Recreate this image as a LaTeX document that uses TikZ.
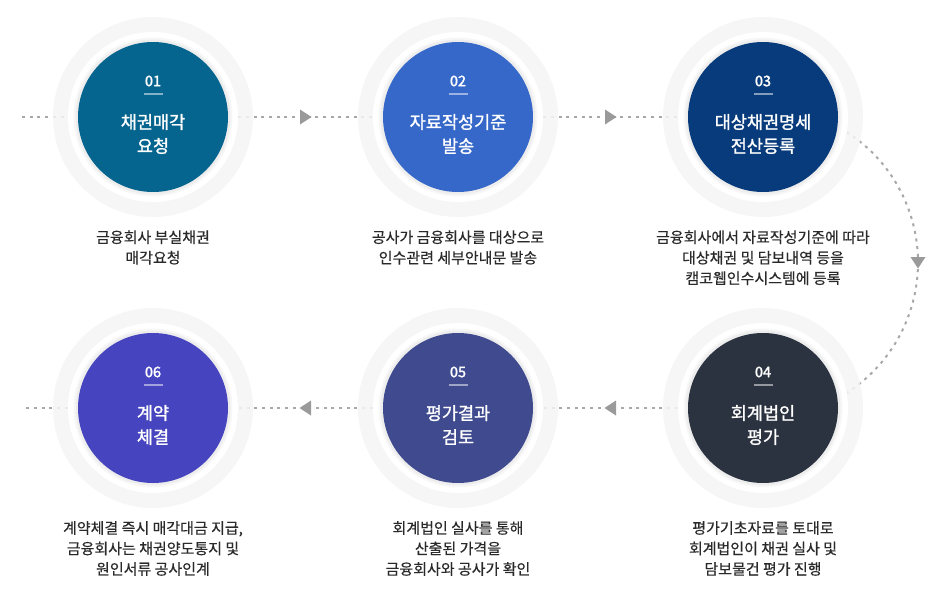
\documentclass[tikz,border=0pt]{standalone}
\usepackage{fontspec}
\setmainfont{Noto Sans CJK KR}
\newfontfamily\krmed[FakeBold=1.3]{Noto Sans CJK KR}
\newfontfamily\krnum[FakeBold=2]{Noto Sans CJK KR}
\newfontfamily\krdesc[FakeBold=0.4]{Noto Sans CJK KR}
\usetikzlibrary{decorations.markings,calc}
\definecolor{colA}{HTML}{06658F}
\definecolor{colB}{HTML}{3568C9}
\definecolor{colC}{HTML}{083B7B}
\definecolor{colD}{HTML}{2C3340}
\definecolor{colE}{HTML}{3F4B8E}
\definecolor{colF}{HTML}{4645BF}
\definecolor{ringgray}{HTML}{F5F5F5}
\definecolor{dotgray}{HTML}{A8A8A8}
\definecolor{arrowgray}{HTML}{9A9A9A}
\definecolor{desctext}{HTML}{2A2A2A}
\pgfdeclarelayer{bg}
\pgfsetlayers{bg,main}
\begin{document}
\begin{tikzpicture}[x=1pt,y=-1pt,
  ring/.style={circle,fill=ringgray,fill opacity=.85,minimum size=200pt,inner sep=0pt},
  wdisk/.style={circle,fill=white,minimum size=170pt,inner sep=0pt},
  disk/.style={circle,fill=#1,minimum size=150pt,inner sep=0pt},
  num/.style={text=white,inner sep=0pt,font=\krnum\fontsize{14.5}{14.5}\selectfont},
  ttl/.style={text=white,inner sep=0pt,align=center,font=\krmed\fontsize{17.5}{24}\selectfont},
  desc/.style={text=desctext,inner sep=0pt,align=center,font=\krdesc\fontsize{15}{20.5}\selectfont},
  uline/.style={draw=white,draw opacity=.5,line width=2pt},
  softshadow/.style={fill=black,fill opacity=#1},
  dots/.style={draw=dotgray,line width=2pt,dash pattern=on 3pt off 4.7pt},
  midarrow/.style={postaction={decorate},decoration={markings,mark=at position 0.5 with {\fill[arrowgray] (-5.5pt,-7.5pt) -- (6pt,0pt) -- (-5.5pt,7.5pt) -- cycle;}}}
]
\useasboundingbox (0,0) rectangle (948,597);

% steps
\foreach \i/\x/\y/\c/\n/\t in {1/153/117/colA/01/{채권매각\\요청},
                               2/458/117/colB/02/{자료작성기준\\발송},
                               3/763/117/colC/03/{대상채권명세\\전산등록},
                               4/763/408/colD/04/{회계법인\\평가},
                               5/458/408/colE/05/{평가결과\\검토},
                               6/153/408/colF/06/{계약\\체결}}{
  \node[ring] (r\i) at (\x,\y) {};
  \node[wdisk] (w\i) at (r\i) {};
  \fill[softshadow=.03] (w\i.center) circle (79.5);
  \fill[softshadow=.04] (w\i.center) circle (77.5);
  \node[disk=\c] (d\i) at (w\i) {};
  \node[num] (n\i) at ($(d\i)+(0,-36)$) {\n};
  \draw[uline] ($(d\i)+(-9.5,-23)$) -- ($(d\i)+(9.5,-23)$);
  \node[ttl] (t\i) at ($(d\i)+(0,17)$) {\t};
}

% descriptions
\node[desc] (p1) at (153,247.5) {금융회사 부실채권\\매각요청};
\node[desc] (p2) at (458,247.5) {공사가 금융회사를 대상으로\\인수관련 세부안내문 발송};
\node[desc] (p3) at (763,257.75) {금융회사에서 자료작성기준에 따라\\대상채권 및 담보내역 등을\\캠코웹인수시스템에 등록};
\node[desc] (p4) at (763,548.5) {평가기초자료를 토대로\\회계법인이 채권 실사 및\\담보물건 평가 진행};
\node[desc] (p5) at (458,548.5) {회계법인 실사를 통해\\산출된 가격을\\금융회사와 공사가 확인};
\node[desc] (p6) at (153,548.5) {계약체결 즉시 매각대금 지급,\\금융회사는 채권양도통지 및\\원인서류 공사인계};

% connectors
\begin{pgfonlayer}{bg}
\coordinate (s1) at (22,117);
\coordinate (e6) at (22,408);
\coordinate (m34) at ($(w3)!0.5!(w4)$);
\draw[dots] (s1) -- (w1);
\draw[dots,midarrow] (w1) -- (w2);
\draw[dots,midarrow] (w2) -- (w3);
\draw[dots,midarrow] ($(m34)+(-57.3:155)$) arc[start angle=-57.3,end angle=57.3,radius=155];
\draw[dots,midarrow] (w4) -- (w5);
\draw[dots,midarrow] (w5) -- (w6);
\draw[dots] (w6) -- (e6);
\end{pgfonlayer}
\end{tikzpicture}
\end{document}
